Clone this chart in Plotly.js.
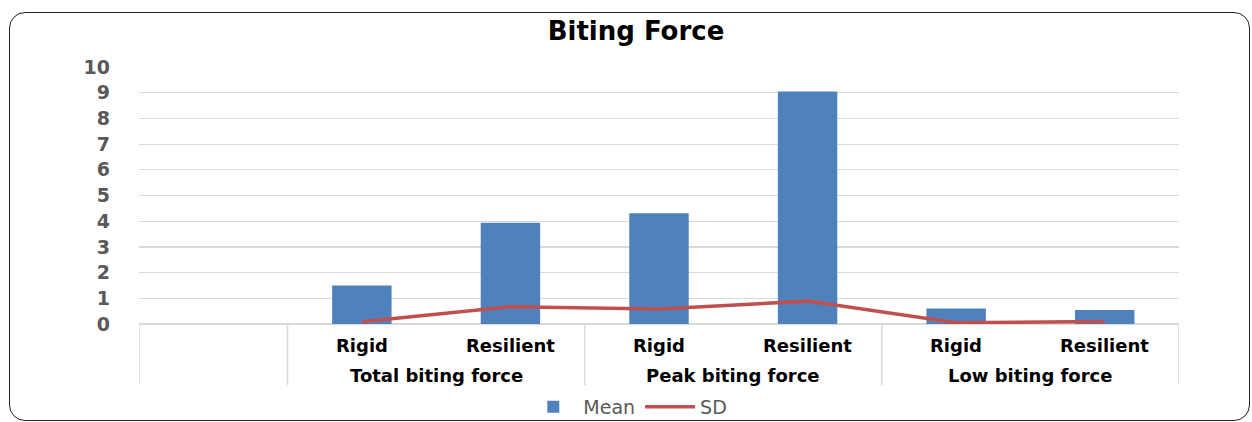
<!DOCTYPE html>
<html>
<head>
<meta charset="utf-8">
<script src="https://cdn.plot.ly/plotly-3.0.1.min.js"></script>
<style>
  html, body { margin: 0; padding: 0; background: #fff; }
  #wrap { position: relative; width: 1252px; height: 422px; overflow: hidden; }
  #chart { position: absolute; left: 0; top: 0; width: 1252px; height: 422px; }
  #frame { position: absolute; left: 9px; top: 12px; width: 1239px; height: 407px;
           border: 1.5px solid #222; border-radius: 16px; pointer-events: none; }
</style>
</head>
<body>
<div id="wrap">
  <div id="chart"></div>
  <div id="frame"></div>
</div>
<script>
// ---- data ----
const groups = ["Total biting force", "Peak biting force", "Low biting force"];
const materials = ["Rigid", "Resilient"];
const meanValues = [1.5, 3.94, 4.31, 9.05, 0.6, 0.54];
const sdValues = [0.09, 0.67, 0.58, 0.89, 0.05, 0.1];
const yTicks = [0, 1, 2, 3, 4, 5, 6, 7, 8, 9, 10];

// build category keys (first slot is an empty category)
const keys = [];
const inner = [];
groups.forEach(g => materials.forEach(m => { keys.push(g + "|" + m); inner.push(m); }));
const categoryArray = ["(blank)"].concat(keys);

const catFont = { family: "DejaVu Sans, Verdana, sans-serif", size: 18, color: "#000", weight: 700 };

const annotations = [];
keys.forEach((k, i) => {
  annotations.push({ x: k, xref: "x", y: -0.082, yref: "paper", text: "<b>" + inner[i] + "</b>",
    showarrow: false, font: catFont, xanchor: "center", yanchor: "middle" });
});
groups.forEach((g, gi) => {
  const pos = 1 + gi * materials.length + (materials.length - 1) / 2;
  annotations.push({ x: pos, xref: "x", y: -0.2, yref: "paper", text: "<b>" + g + "</b>",
    showarrow: false, font: catFont, xanchor: "center", yanchor: "middle" });
});

// dividers at group boundaries
const shapes = [];
const bounds = [-0.5, 0.5];
groups.forEach((g, gi) => bounds.push(0.5 + (gi + 1) * materials.length));
bounds.forEach(b => shapes.push({ type: "line", xref: "x", yref: "paper", x0: b, x1: b,
  y0: 0, y1: -0.237, line: { color: "#d9d9d9", width: 1.5 } }));

const traces = [
  { type: "bar", name: "Mean", x: keys, y: meanValues, width: 0.4,
    marker: { color: "#4F81BD" } },
  { type: "scatter", mode: "lines", name: "SD", x: keys, y: sdValues,
    line: { color: "#C0504D", width: 3.5 } }
];

const layout = {
  width: 1252, height: 422,
  margin: { l: 139, r: 73, t: 67, b: 98, autoexpand: false },
  paper_bgcolor: "#fff", plot_bgcolor: "#fff",
  title: { text: "<b>Biting Force</b>", x: 636 / 1252, xref: "container", xanchor: "center",
    y: 1 - 31 / 422, yref: "container", yanchor: "middle",
    font: { family: "DejaVu Sans, Verdana, sans-serif", size: 26, color: "#000", weight: 700 } },
  xaxis: { type: "category", categoryorder: "array", categoryarray: categoryArray,
    range: [-0.5, 6.5], showticklabels: false, showgrid: false, zeroline: false,
    showline: false, ticks: "", fixedrange: true },
  yaxis: { range: [0, 10], tickvals: yTicks, ticktext: yTicks.map(String),
    showgrid: true, gridcolor: "#d9d9d9", gridwidth: 1.2, zeroline: true,
    zerolinecolor: "#d9d9d9", zerolinewidth: 1.5, showline: false, ticks: "",
    ticklabelstandoff: 28,
    tickfont: { family: "DejaVu Sans, Verdana, sans-serif", size: 19, color: "#595959", weight: 700 } },
  bargap: 0.6,
  showlegend: true,
  legend: { orientation: "h", x: 0.47, xanchor: "center", y: -0.323, yanchor: "middle",
    font: { family: "DejaVu Sans, sans-serif", size: 19, color: "#595959" },
    itemwidth: 50, traceorder: "normal" },
  annotations: annotations,
  shapes: shapes
};

Plotly.newPlot("chart", traces, layout, { displayModeBar: false, staticPlot: true });
</script>
</body>
</html>
